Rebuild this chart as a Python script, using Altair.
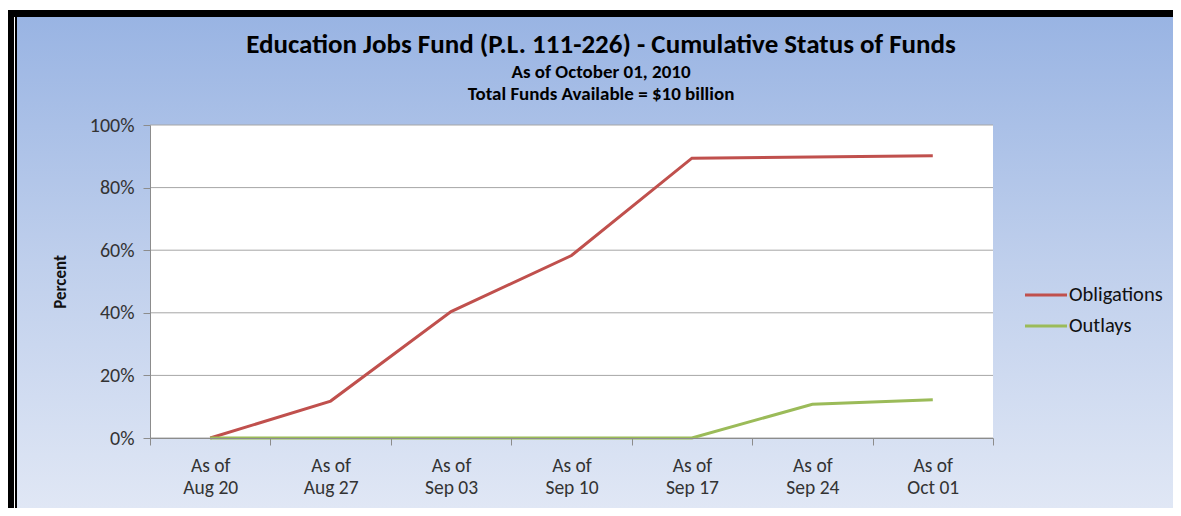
import altair as alt
import pandas as pd

# ---- data ----
categories = ["As of Aug 20", "As of Aug 27", "As of Sep 03", "As of Sep 10",
              "As of Sep 17", "As of Sep 24", "As of Oct 01"]
obligations = [0.0, 11.8, 40.4, 58.3, 89.4, 89.8, 90.2]
outlays = [0.0, 0.0, 0.0, 0.0, 0.0, 10.8, 12.2]
series_names = ["Obligations", "Outlays"]
series_colors = ["#C0504D", "#9BBB59"]
y_ticks = [0, 20, 40, 60, 80, 100]

title_text = "Education Jobs Fund (P.L. 111-226) - Cumulative Status of Funds"
subtitle_1 = "As of October 01, 2010"
subtitle_2 = "Total Funds Available = $10 billion"

FONT = "Carlito, Lato, sans-serif"
W, H = 843, 313
PAD_R, PAD_B = 180, 70

rows = []
for name, vals in zip(series_names, [obligations, outlays]):
    for c, v in zip(categories, vals):
        rows.append({"category": c, "series": name, "value": v})
df = pd.DataFrame(rows)
grid_df = pd.DataFrame({"value": y_ticks})
one = alt.Data(values=[{}])

y_enc = alt.Y(
    "value:Q",
    scale=alt.Scale(domain=[0, 100], nice=False, zero=True),
    axis=alt.Axis(
        values=y_ticks, labelExpr="datum.value + '%'", grid=False,
        title="Percent", titleFont=FONT, titleFontSize=17, titleFontWeight="bold",
        titleColor="#111", titlePadding=20,
        labelFont=FONT, labelFontSize=20, labelColor="#333", labelPadding=9,
        tickSize=7, tickColor="#8C8C8C", domainColor="#8C8C8C", zindex=1,
    ),
)

x_enc = alt.X(
    "category:N", sort=categories,
    scale=alt.Scale(domain=categories, paddingInner=0, paddingOuter=0),
    axis=alt.Axis(
        title=None, labelAngle=0, tickBand="extent",
        labelExpr="datum.label ? ['As of', slice(datum.label, 6)] : ''",
        labelFont=FONT, labelFontSize=19.5, labelColor="#333", labelLineHeight=22,
        labelPadding=11, tickSize=7, tickColor="#8C8C8C", domainColor="#8C8C8C",
        zindex=1,
    ),
)

bg = alt.Chart(one).mark_rect(
    fill=alt.LinearGradient(
        gradient="linear", x1=0, y1=0, x2=0, y2=1,
        stops=[alt.GradientStop(color="#99B4E3", offset=0),
               alt.GradientStop(color="#BFCFEC", offset=0.5),
               alt.GradientStop(color="#E0E7F5", offset=1)],
    )
).encode(x=alt.value(-133), x2=alt.value(W + PAD_R), y=alt.value(-108), y2=alt.value(H + PAD_B))

frame_top = alt.Chart(one).mark_rect(color="#000000").encode(
    x=alt.value(-142), x2=alt.value(W + PAD_R), y=alt.value(-115), y2=alt.value(-108))
frame_left1 = alt.Chart(one).mark_rect(color="#000000").encode(
    x=alt.value(-142), x2=alt.value(-136), y=alt.value(-115), y2=alt.value(H + PAD_B))
frame_left2 = alt.Chart(one).mark_rect(color="#000000").encode(
    x=alt.value(-135), x2=alt.value(-133), y=alt.value(-108), y2=alt.value(H + PAD_B))

plot_bg = alt.Chart(one).mark_rect(color="#FFFFFF").encode(
    x=alt.value(0), x2=alt.value(W), y=alt.value(0), y2=alt.value(H))

grid = alt.Chart(grid_df).mark_rule(color="#A6A6A6", strokeWidth=1).encode(
    y=y_enc, x=alt.value(0), x2=alt.value(W))

lines = alt.Chart(df).mark_line(strokeWidth=3).encode(
    x=x_enc, y=y_enc,
    color=alt.Color("series:N", scale=alt.Scale(domain=series_names, range=series_colors),
                    legend=None),
    detail="series:N",
)

layers = [bg, frame_top, frame_left1, frame_left2, plot_bg, grid, lines]

# manual legend
for i, (name, col) in enumerate(zip(series_names, series_colors)):
    yy = 170 + 31 * i
    layers.append(alt.Chart(one).mark_rule(color=col, strokeWidth=3).encode(
        x=alt.value(875), x2=alt.value(917), y=alt.value(yy)))
    layers.append(alt.Chart(one).mark_text(
        text=name, font=FONT, fontSize=20.5, color="#111", align="left", baseline="middle"
    ).encode(x=alt.value(919), y=alt.value(yy)))

# titles (alphabetic baselines)
for txt, size, yy in [(title_text, 27, -72), (subtitle_1, 19, -47), (subtitle_2, 19, -25)]:
    layers.append(alt.Chart(one).mark_text(
        text=txt, font=FONT, fontSize=size, fontWeight="bold", color="#000",
        align="center", baseline="alphabetic"
    ).encode(x=alt.value(451), y=alt.value(yy)))

chart = alt.layer(*layers).properties(
    width=W, height=H,
    autosize=alt.AutoSizeParams(type="none"),
    padding={"left": 142, "top": 117, "right": PAD_R, "bottom": PAD_B},
).configure(background="#FFFFFF").configure_view(stroke=None)

chart.save("out.html", embed_options={"renderer": "svg", "actions": False})
